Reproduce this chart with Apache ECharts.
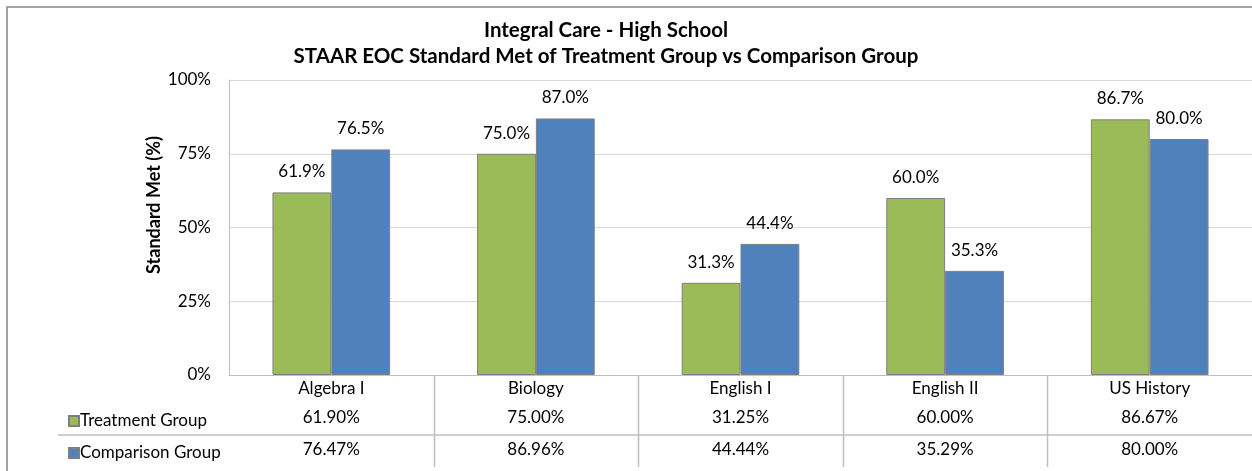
<!DOCTYPE html>
<html><head><meta charset="utf-8">
<script src="https://cdn.jsdelivr.net/npm/echarts@6/dist/echarts.min.js"></script>
<style>html,body{margin:0;padding:0;background:#fff}#c{width:1252px;height:471px}</style>
</head><body><div id="c"></div>
<script>
const categories = ['Algebra I', 'Biology', 'English I', 'English II', 'US History'];
const treatment = [61.90, 75.00, 31.25, 60.00, 86.67];
const comparison = [76.47, 86.96, 44.44, 35.29, 80.00];
const seriesNames = ['Treatment Group', 'Comparison Group'];
const yTicks = [0, 25, 50, 75, 100];
const titleLines = ['Integral Care - High School', 'STAAR EOC Standard Met of Treatment Group vs Comparison Group'];
const yName = 'Standard Met (%)';

const FONT = 'Lato';
const FS = 17;
const chart = echarts.init(document.getElementById('c'), null, {renderer: 'canvas'});

const option = {
  animation: false,
  backgroundColor: '#fff',
  textStyle: {fontFamily: FONT},
  title: {
    text: titleLines.join('\n'), left: 601, top: 12, textAlign: 'center',
    textStyle: {fontFamily: FONT, fontSize: 20.5, fontWeight: 'bold', color: '#000', lineHeight: 26}
  },
  legend: {
    orient: 'vertical', left: 63, top: 406, itemWidth: 10, itemHeight: 10, itemGap: 12,
    icon: 'rect',
    textStyle: {fontFamily: FONT, fontSize: FS, color: '#000', lineHeight: 20, padding: [0,0,0,-4]},
    data: seriesNames
  },
  grid: {left: 229, top: 80, right: -3, bottom: 96, containLabel: false},
  xAxis: {
    type: 'category', data: categories,
    axisLine: {lineStyle: {color: '#bfbfbf', width: 1}},
    axisTick: {show: false},
    axisLabel: {
      margin: 0, interval: 0,
      formatter: function (v, i) {
        return '{c|' + v + '}\n{v|' + treatment[i].toFixed(2) + '%}\n{v|' + comparison[i].toFixed(2) + '%}';
      },
      rich: {
        c: {fontFamily: FONT, fontSize: FS, color: '#000', lineHeight: 27},
        v: {fontFamily: FONT, fontSize: FS, color: '#000', lineHeight: 32}
      }
    }
  },
  yAxis: {
    type: 'value', min: 0, max: 100, interval: 25,
    axisLine: {show: true, lineStyle: {color: '#bfbfbf', width: 1}},
    axisTick: {show: false},
    splitLine: {lineStyle: {color: '#d9d9d9', width: 1}},
    axisLabel: {margin: 18, fontFamily: FONT, fontSize: FS, color: '#000',
      formatter: function (v) { return yTicks.indexOf(v) >= 0 ? v + '%' : ''; }}
  },
  series: [
    {name: seriesNames[0], type: 'bar', data: treatment, barGap: '0%', barCategoryGap: '42.5%',
     itemStyle: {color: '#9BBB59', borderColor: '#7f7f7f', borderWidth: 1},
     label: {show: true, position: 'top', distance: 12, fontFamily: FONT, fontSize: FS, color: '#000',
       formatter: p => p.value.toFixed(1) + '%'}},
    {name: seriesNames[1], type: 'bar', data: comparison,
     itemStyle: {color: '#4F81BD', borderColor: '#7f7f7f', borderWidth: 1},
     label: {show: true, position: 'top', distance: 12, fontFamily: FONT, fontSize: FS, color: '#000',
       formatter: p => p.value.toFixed(1) + '%'}}
  ]
};
chart.setOption(option);

// table lines and frame, positioned from the category axis
const c0 = chart.convertToPixel({xAxisIndex: 0}, 0);
const c1 = chart.convertToPixel({xAxisIndex: 0}, 1);
const band = c1 - c0;
const axisY = chart.convertToPixel({yAxisIndex: 0}, 0);
const elems = [
  {type: 'rect', shape: {x: 7, y: 7, width: 1270, height: 490}, style: {fill: null, stroke: '#868686', lineWidth: 1.5}, silent: true},
  {type: 'text', x: 154, y: 205, rotation: Math.PI / 2,
   style: {text: yName, fontFamily: FONT, fontSize: 18, fontWeight: 'bold', fill: '#000', align: 'center', verticalAlign: 'middle'}},
  {type: 'line', shape: {x1: 58, y1: axisY + 60, x2: 1252, y2: axisY + 60}, style: {stroke: '#bfbfbf', lineWidth: 1.5}}
];
for (let i = 0; i < categories.length - 1; i++) {
  const x = Math.round(chart.convertToPixel({xAxisIndex: 0}, i) + band / 2) + 0.5;
  elems.push({type: 'line', shape: {x1: x, y1: axisY, x2: x, y2: axisY + 92}, style: {stroke: '#bfbfbf', lineWidth: 1.5}});
}
chart.setOption({graphic: {elements: elems}});
</script></body></html>
